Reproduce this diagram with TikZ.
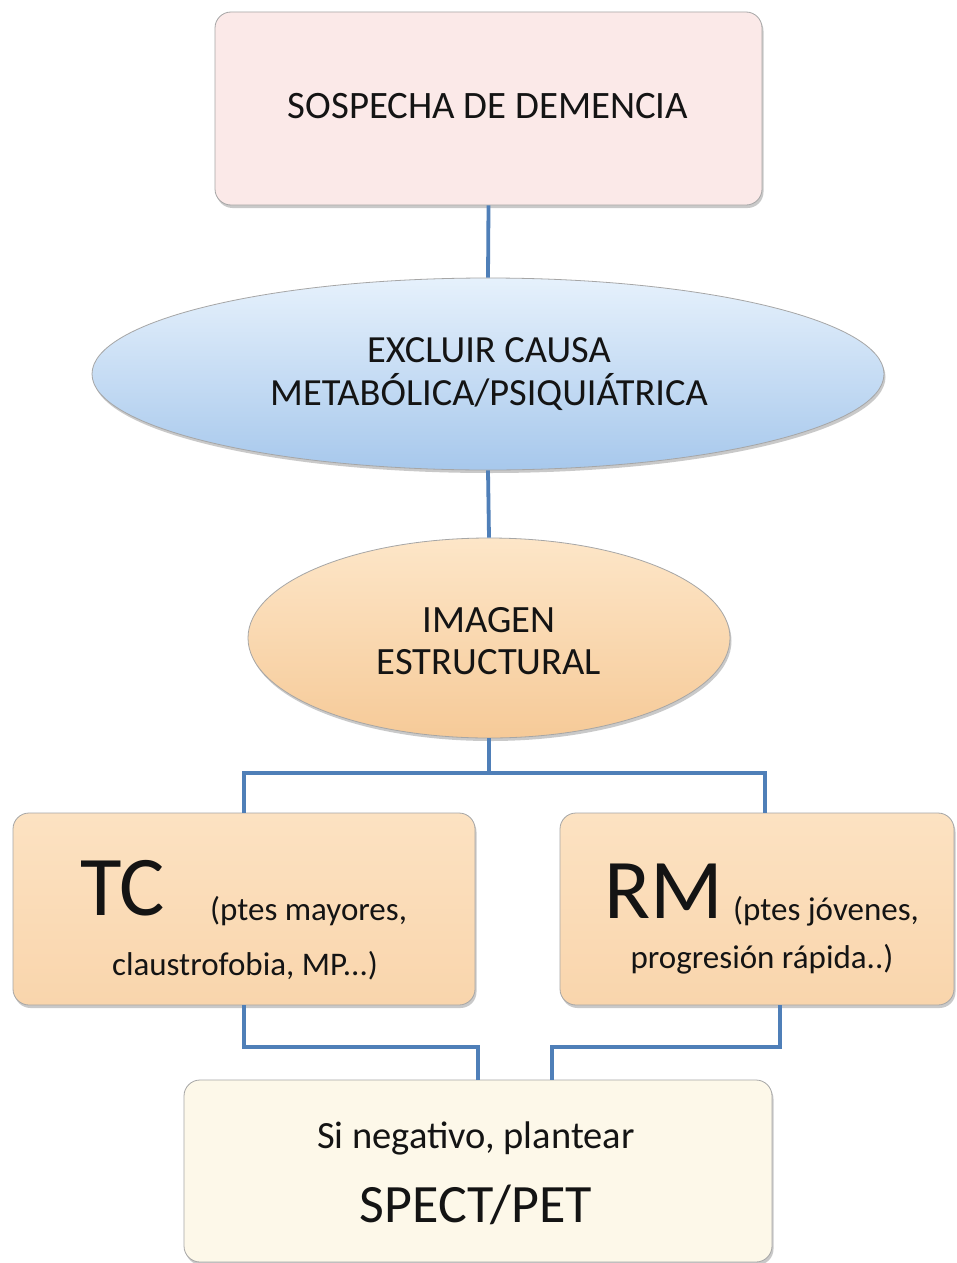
\documentclass[tikz,border=0pt]{standalone}
\usepackage{fontspec}
\setmainfont{Carlito}
\usetikzlibrary{shadows,positioning,shapes.geometric}
\definecolor{pinkfill}{HTML}{FBE9E8}
\definecolor{boxline}{HTML}{A6A6A6}
\definecolor{bluetop}{HTML}{E6F1FC}
\definecolor{bluebot}{HTML}{A7C8EC}
\definecolor{orangetop}{HTML}{FDE6C8}
\definecolor{orangebot}{HTML}{F6CA98}
\definecolor{peachtop}{HTML}{FCE2C2}
\definecolor{peachbot}{HTML}{F9D5AC}
\definecolor{creamfill}{HTML}{FDF8E9}
\definecolor{linkblue}{HTML}{4F7FB8}
\definecolor{txt}{HTML}{141414}
\tikzset{
  softshadow/.style={drop shadow={shadow xshift=1.5pt, shadow yshift=-3pt, opacity=0.35, fill=black!60}},
  rbox/.style={draw=boxline, line width=0.8pt, rounded corners=16pt, softshadow, inner sep=0pt},
  ellbox/.style={draw=boxline, line width=0.8pt, ellipse, softshadow, inner sep=0pt},
  link/.style={draw=linkblue, line width=3.8pt},
  lbl/.style={text=txt, align=center, inner sep=0pt},
}
\begin{document}
\begin{tikzpicture}[x=1pt,y=-1pt]
\useasboundingbox (0,0) rectangle (956,1263);
\fill[white] (0,0) rectangle (956,1263);

% nodes
\node[rbox, fill=pinkfill, minimum width=547pt, minimum height=193pt] (top) at (488.5,108.5) {};
\node[ellbox, top color=bluetop, bottom color=bluebot, minimum width=792pt, minimum height=192pt] (excl) at (488,374) {};
\node[ellbox, top color=orangetop, bottom color=orangebot, minimum width=482pt, minimum height=200pt] (img) at (489,638) {};
\node[rbox, top color=peachtop, bottom color=peachbot, minimum width=462pt, minimum height=192pt] (tc) at (244,909) {};
\node[rbox, top color=peachtop, bottom color=peachbot, minimum width=394pt, minimum height=192pt] (rm) at (757,909) {};
\node[rbox, fill=creamfill, minimum width=588pt, minimum height=182pt] (bot) at (478,1171) {};

% texts
\node[lbl, font=\fontsize{38.8}{44}\selectfont] (ttop) at (488,106) {SOSPECHA DE DEMENCIA};
\node[lbl, font=\fontsize{38.4}{43}\selectfont] (texcl) at (489,374) {EXCLUIR CAUSA\\METABÓLICA/PSIQUIÁTRICA};
\node[lbl, font=\fontsize{38.6}{42}\selectfont] (timg) at (489,641) {IMAGEN\\ESTRUCTURAL};
\node[lbl, anchor=base west, font=\fontsize{85}{90}\selectfont] (ttc) at (80,915) {TC};
\node[lbl, anchor=base west, font=\fontsize{33}{38}\selectfont] (ttc1) at (210,920) {(ptes mayores,};
\node[lbl, anchor=base, font=\fontsize{33}{38}\selectfont] (ttc2) at (245,975) {claustrofobia, MP...)};
\node[lbl, anchor=base west, font=\fontsize{85}{90}\selectfont] (trm) at (604,918) {RM};
\node[lbl, anchor=base west, font=\fontsize{33}{38}\selectfont] (trm1) at (733,920) {(ptes jóvenes,};
\node[lbl, anchor=base, font=\fontsize{33}{38}\selectfont] (trm2) at (762,968) {progresión rápida..)};
\node[lbl, font=\fontsize{38.5}{44}\selectfont] (tbot1) at (476,1138) {Si negativo, plantear};
\node[lbl, font=\fontsize{54}{60}\selectfont] (tbot2) at (476,1205) {SPECT/PET};

% connectors
\coordinate (j) at (489,773);
\coordinate (bl) at (478,1047);
\coordinate (br) at (552,1047);
\path[link] (top.south) -- (excl.north);
\path[link] (excl.south) -- (img.north);
\path[link] (img.south) -- (j);
\path[link] (j) -| (tc.north);
\path[link] (j) -| ([xshift=8pt]rm.north);
\path[link] (tc.south) |- (bl) -- (bot.north);
\path[link] ([xshift=23pt]rm.south) |- (br) -- (br |- bot.north);
\end{tikzpicture}
\end{document}
